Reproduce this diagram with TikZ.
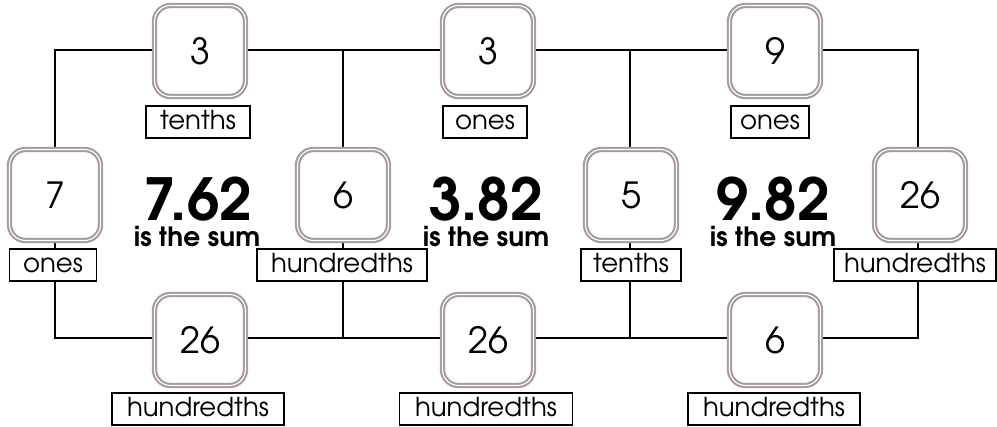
\documentclass[tikz,border=0pt]{standalone}
\usepackage{fontspec}
\setmainfont{TeX Gyre Adventor}
\definecolor{boxgray}{HTML}{A69B9A}
\begin{document}
\begin{tikzpicture}[x=1pt,y=-1pt,
  numbox/.style={draw=boxgray, line width=2.1pt, double=white, double distance=1.1pt,
    fill=white, rounded corners=16pt, minimum width=91pt, minimum height=91pt,
    inner sep=0pt, font=\fontsize{36}{40}\selectfont},
  lbl/.style={draw=black, line width=1.8pt, fill=white, inner sep=0pt,
    minimum height=32pt, text height=19pt, text depth=4pt, font=\fontsize{26}{28}\selectfont},
  sumnum/.style={font=\fontsize{58}{60}\selectfont\bfseries, inner sep=0pt, anchor=base,
    text depth=0pt},
  sumtxt/.style={font=\fontsize{26.5}{28}\selectfont\bfseries, inner sep=0pt, anchor=base,
    text height=18pt},
  wire/.style={line width=2.2pt, black}]
\useasboundingbox (0,0) rectangle (997,427);
% junction coordinates
\coordinate (tl) at (55,50);
\coordinate (tm1) at (343,50);
\coordinate (tm2) at (630,50);
\coordinate (tr) at (918,50);
\coordinate (bl) at (55,338);
\coordinate (bm1) at (343,338);
\coordinate (bm2) at (630,338);
\coordinate (br) at (918,338);
\draw[wire] (tl) -- (tr) -- (br) -- (bl) -- cycle;
\draw[wire] (tm1) -- (bm1);
\draw[wire] (tm2) -- (bm2);
% number boxes
\node[numbox] (t1) at (200,51) {3};
\node[numbox] (t2) at (488,51) {3};
\node[numbox] (t3) at (775,51) {9};
\node[numbox] (m1) at (55,195) {7};
\node[numbox] (m2) at (343,195) {6};
\node[numbox] (m3) at (631,195) {5};
\node[numbox] (m4) at (920,195) {26};
\node[numbox] (b1) at (200,340) {26};
\node[numbox] (b2) at (488,340) {26};
\node[numbox] (b3) at (775,340) {6};
% labels
\node[lbl, minimum width=104pt] (lt1) at (198,122) {tenths};
\node[lbl, minimum width=84pt] (lt2) at (485,122) {ones};
\node[lbl, minimum width=78pt] (lt3) at (770,122) {ones};
\node[lbl, minimum width=87pt] (lm1) at (53,265) {ones};
\node[lbl, minimum width=170pt] (lm2) at (342,265) {hundredths};
\node[lbl, minimum width=100pt] (lm3) at (631,265) {tenths};
\node[lbl, minimum width=162pt] (lm4) at (915,265) {hundredths};
\node[lbl, minimum width=172pt] (lb1) at (198,409) {hundredths};
\node[lbl, minimum width=173pt] (lb2) at (486,409) {hundredths};
\node[lbl, minimum width=172pt] (lb3) at (774,409) {hundredths};
% sums
\node[sumnum] (s1) at (198,221) {7.62};
\node[sumtxt] (st1) at (197,247) {is the sum};
\node[sumnum] (s2) at (486,221) {3.82};
\node[sumtxt] (st2) at (486,247) {is the sum};
\node[sumnum] (s3) at (773,221) {9.82};
\node[sumtxt] (st3) at (773,247) {is the sum};
\end{tikzpicture}
\end{document}
